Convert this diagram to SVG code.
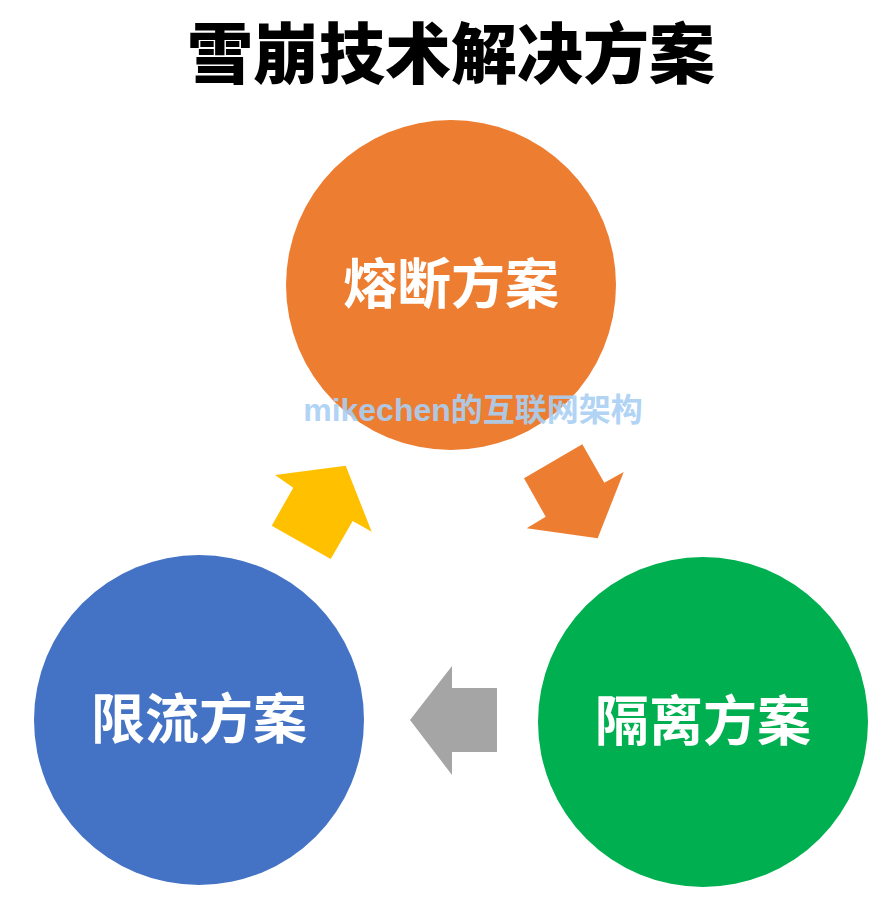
<svg xmlns="http://www.w3.org/2000/svg" width="886" height="910" viewBox="0 0 886 910">
<style>
.t{font-family:"Noto Sans CJK SC",sans-serif;font-weight:700;fill:#fff;font-size:54px;text-anchor:middle}
</style>
<rect width="886" height="910" fill="#fff"/>
<text x="451" y="78" font-family="Noto Sans CJK SC,sans-serif" font-weight="900" font-size="66" text-anchor="middle" fill="#000">雪崩技术解决方案</text>
<g id="n1"><circle cx="451" cy="285" r="165" fill="#ED7D31"/><text class="t" x="451" y="304">熔断方案</text></g>
<g id="n2"><circle cx="703" cy="722" r="165" fill="#00B050"/><text class="t" x="703" y="741">隔离方案</text></g>
<g id="n3"><circle cx="199" cy="720" r="165" fill="#4472C4"/><text class="t" x="199" y="739">限流方案</text></g>
<g id="connectors">
<polygon fill="#ED7D31" points="582.3,444.3 604.3,482.7 623.7,472 597.7,538.3 526.7,528.3 545.7,516.7 524,478.3"/>
<polygon fill="#FFC000" points="275,475 345.7,465.7 371.7,531.7 352.7,521 330.7,559 271.7,525.7 293.3,487.7"/>
<polygon fill="#A5A5A5" points="410,720 452,666 452,688 497,688 497,752 452,752 452,775"/>
</g>
<text x="473" y="421" font-family="Liberation Sans,Noto Sans CJK SC,sans-serif" font-weight="700" font-size="32" text-anchor="middle" fill="#A9D0F5" opacity="0.9">mikechen的互联网架构</text>
</svg>
